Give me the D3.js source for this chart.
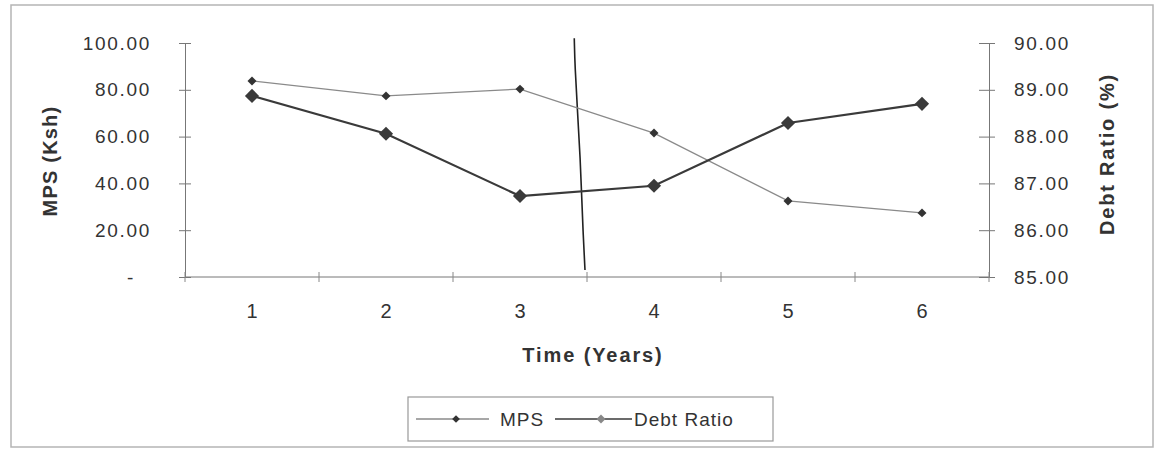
<!DOCTYPE html>
<html><head><meta charset="utf-8">
<script src="https://cdn.jsdelivr.net/npm/d3@7"></script>
<style>
body{margin:0;background:#fff;}
svg{display:block;font-family:"Liberation Sans",Arial,sans-serif;}
</style></head>
<body><svg id="c" width="1160" height="451"></svg>
<script>
const years = [1, 2, 3, 4, 5, 6];
const mps = [83.8, 77.4, 80.3, 61.5, 32.5, 27.4];
const debtRatio = [88.87, 88.06, 86.73, 86.95, 88.29, 88.70];
const leftTicks = [0, 20, 40, 60, 80, 100];
const rightTicks = [85, 86, 87, 88, 89, 90];

const svg = d3.select("#c");
const L = 185, R = 989, T = 43, B = 277;
const ink = "#333";

// frame
svg.append("rect").attr("x", 11).attr("y", 5).attr("width", 1142).attr("height", 442)
  .attr("fill", "none").attr("stroke", "#b5b5b5").attr("stroke-width", 1.5);

const xb = d3.scaleBand().domain(years).range([L, R]);
const xc = d => xb(d) + xb.bandwidth() / 2;
const xl = d3.scaleLinear().domain([1, 6]).range([xc(1), xc(6)]);
const yL = d3.scaleLinear().domain([0, 100]).range([B, T]);
const yR = d3.scaleLinear().domain([85, 90]).range([B, T]);

// left axis
const gl = svg.append("g").attr("transform", `translate(${L},0)`)
  .call(d3.axisLeft(yL).tickValues(leftTicks).tickSize(6).tickPadding(30)
    .tickFormat(d => d === 0 ? "-" : d3.format(".2f")(d)));
gl.select(".domain").attr("stroke", "#777");
gl.selectAll(".tick line").attr("x1", 6).attr("x2", -6).attr("stroke", "#777");
gl.selectAll(".tick text").attr("font-size", 19).attr("fill", ink).attr("letter-spacing", 1.7)
  .attr("dx", d => d === 0 ? -14 : 2);

// right axis
const gr = svg.append("g").attr("transform", `translate(${R},0)`)
  .call(d3.axisRight(yR).tickValues(rightTicks).tickSize(6).tickPadding(22)
    .tickFormat(d3.format(".2f")));
gr.select(".domain").attr("stroke", "#777");
gr.selectAll(".tick line").attr("x1", -10).attr("x2", 6).attr("stroke", "#777");
gr.selectAll(".tick text").attr("font-size", 19).attr("fill", ink).attr("letter-spacing", 1.7).attr("dx", -3);

// x axis
svg.append("line").attr("x1", L).attr("x2", R).attr("y1", B).attr("y2", B).attr("stroke", "#777");
const edges = years.map(d => xb(d)).concat([R]);
svg.selectAll(".xt").data(edges).join("line").attr("class", "xt")
  .attr("x1", d => d).attr("x2", d => d).attr("y1", B - 5).attr("y2", B + 5).attr("stroke", "#888");
svg.selectAll(".xl").data(years).join("text").attr("class", "xl")
  .attr("x", d => xc(d)).attr("y", 318).attr("text-anchor", "middle")
  .attr("font-size", 20).attr("fill", ink).text(d => d);

// axis titles
svg.append("text").attr("transform", `translate(57,161) rotate(-90)`).attr("text-anchor", "middle")
  .attr("font-size", 20).attr("font-weight", "bold").attr("letter-spacing", 1.2).attr("fill", ink).text("MPS (Ksh)");
svg.append("text").attr("transform", `translate(1114,154) rotate(-90)`).attr("text-anchor", "middle")
  .attr("font-size", 20).attr("font-weight", "bold").attr("letter-spacing", 1.8).attr("fill", ink).text("Debt Ratio (%)");
svg.append("text").attr("x", 593).attr("y", 362).attr("text-anchor", "middle")
  .attr("font-size", 20).attr("font-weight", "bold").attr("letter-spacing", 1.9).attr("fill", ink).text("Time (Years)");

// scan artifact vertical line
const artifact = [[3.405, 102], [3.41, 90], [3.43, 70], [3.45, 50], [3.46, 35], [3.47, 20], [3.485, 3]];
svg.append("path").datum(artifact)
  .attr("d", d3.line().x(d => xl(d[0])).y(d => yL(d[1])).curve(d3.curveBasis))
  .attr("fill", "none").attr("stroke", "#222").attr("stroke-width", 1.6);

const diamond = (s) => d3.symbol().type(d3.symbolSquare).size(s);

// MPS (thin)
const mpsPts = years.map((y, i) => [xc(y), yL(mps[i])]);
svg.append("path").datum(mpsPts).attr("d", d3.line()).attr("fill", "none")
  .attr("stroke", "#8a8a8a").attr("stroke-width", 1.3);
svg.selectAll(".mp").data(mpsPts).join("path").attr("class", "mp")
  .attr("transform", d => `translate(${d[0]},${d[1]}) rotate(45)`).attr("d", diamond(40)).attr("fill", "#333");

// Debt ratio (thick)
const drPts = years.map((y, i) => [xc(y), yR(debtRatio[i])]);
svg.append("path").datum(drPts).attr("d", d3.line()).attr("fill", "none")
  .attr("stroke", "#3a3a3a").attr("stroke-width", 2.2);
svg.selectAll(".dp").data(drPts).join("path").attr("class", "dp")
  .attr("transform", d => `translate(${d[0]},${d[1]}) rotate(45)`).attr("d", diamond(100)).attr("fill", "#3a3a3a");

// legend
svg.append("rect").attr("x", 408).attr("y", 397).attr("width", 365).attr("height", 44)
  .attr("fill", "#fff").attr("stroke", "#999").attr("stroke-width", 1.2);
const ly = 419;
svg.append("line").attr("x1", 416).attr("x2", 489).attr("y1", ly).attr("y2", ly).attr("stroke", "#8a8a8a").attr("stroke-width", 1.3);
svg.append("path").attr("transform", `translate(456,${ly}) rotate(45)`).attr("d", diamond(30)).attr("fill", "#333");
svg.append("text").attr("x", 500).attr("y", ly + 7).attr("font-size", 19).attr("letter-spacing", 1).attr("fill", ink).text("MPS");
svg.append("line").attr("x1", 555).attr("x2", 632).attr("y1", ly).attr("y2", ly).attr("stroke", "#3a3a3a").attr("stroke-width", 1.6);
svg.append("path").attr("transform", `translate(601,${ly}) rotate(45)`).attr("d", diamond(40)).attr("fill", "#888");
svg.append("text").attr("x", 634).attr("y", ly + 7).attr("font-size", 19).attr("letter-spacing", 1).attr("fill", ink).text("Debt Ratio");
</script></body></html>
